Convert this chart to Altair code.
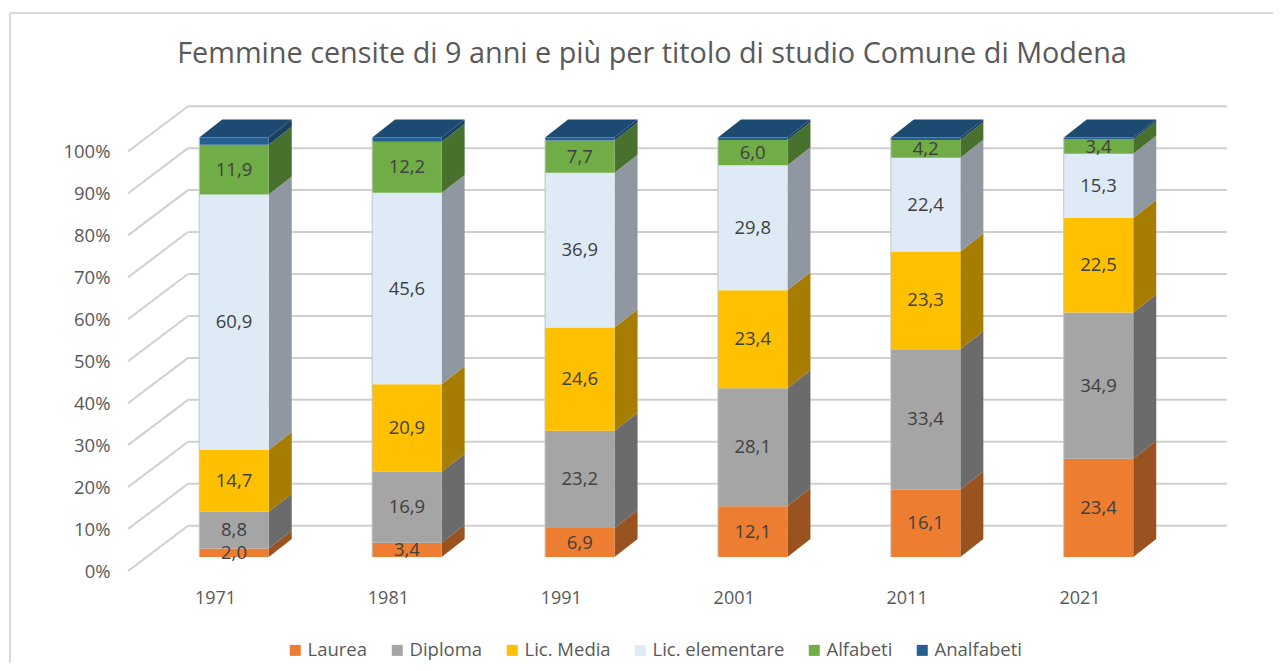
import altair as alt
import pandas as pd

years = [1971, 1981, 1991, 2001, 2011, 2021]
series = ["Laurea", "Diploma", "Lic. Media", "Lic. elementare", "Alfabeti", "Analfabeti"]
laurea = [2.0, 3.4, 6.9, 12.1, 16.1, 23.4]
diploma = [8.8, 16.9, 23.2, 28.1, 33.4, 34.9]
media = [14.7, 20.9, 24.6, 23.4, 23.3, 22.5]
elementare = [60.9, 45.6, 36.9, 29.8, 22.4, 15.3]
alfabeti = [11.9, 12.2, 7.7, 6.0, 4.2, 3.4]
analfabeti = [1.7, 1.0, 0.7, 0.6, 0.6, 0.5]
front_colors = ["#ED7D31", "#A5A5A5", "#FFC000", "#DEEBF7", "#70AD47", "#255E91"]
side_colors = ["#9A5220", "#6B6B6B", "#A67D00", "#8F98A0", "#49712E", "#18405F"]
top_color = "#1C4A70"
grid_levels = list(range(0, 101, 10))
title = "Femmine censite di 9 anni e più per titolo di studio Comune di Modena"

FONT = "Open Sans"
TEXT = "#595959"
GRID = "#D0D0D0"

# geometry, in data units (x in years, y in percent)
half_w = 2.01
depth_x = 1.33
depth_y = 4.29
px_x = 17.29
px_y = 4.195
x_domain = [1971 + (118 - 234) / px_x, 1971 + (1238 - 234) / px_x]
y_domain = [-(580 - 557) / px_y, (557 - 100) / px_y]
wall_front_x = 1971 + (128 - 234) / px_x
wall_back_x = 1971 + (188 - 234) / px_x
wall_end_x = 1971 + (1227 - 234) / px_x
wall_front_y = -(571 - 557) / px_y
wall_back_y = (557 - 525.7) / px_y

columns = [laurea, diploma, media, elementare, alfabeti, analfabeti]
front, side, top, edge = [], [], [], []
for i, yr in enumerate(years):
    base = 0.0
    for name, col in zip(series, columns):
        v = col[i]
        front.append(dict(year=yr, series=name, value=v, left=yr - half_w, right=yr + half_w,
                          y0=base, y1=base + v, mid=base + v / 2))
        key = f"{yr}-{name}"
        side.append(dict(key=key, series=name, x=yr + half_w, y0=base, y1=base + v))
        side.append(dict(key=key, series=name, x=yr + half_w + depth_x, y0=base + depth_y, y1=base + v + depth_y))
        base += v
    top.append(dict(year=yr, y=base, left=yr - half_w, right=yr + half_w))
    top.append(dict(year=yr, y=base + depth_y, left=yr - half_w + depth_x, right=yr + half_w + depth_x))
    edge.append(dict(year=yr, x=yr - half_w, y0=0, y1=base))

grid_diag, grid_back = [], []
for lv in grid_levels:
    grid_diag.append(dict(level=lv, x=wall_front_x, y=lv + wall_front_y))
    grid_diag.append(dict(level=lv, x=wall_back_x, y=lv + wall_back_y))
    grid_back.append(dict(level=lv, x=wall_back_x, y=lv + wall_back_y))
    grid_back.append(dict(level=lv, x=wall_end_x, y=lv + wall_back_y))

front_df = pd.DataFrame(front)
side_df = pd.DataFrame(side)
top_df = pd.DataFrame(top)
edge_df = pd.DataFrame(edge)

xs = alt.Scale(domain=x_domain, nice=False, zero=False)
ys = alt.Scale(domain=y_domain, nice=False, zero=False)

x_axis = alt.Axis(values=years, format="d", title=None, domain=False, ticks=False, grid=False,
                  labelOffset=-19, labelPadding=9, labelFont=FONT, labelFontSize=18, labelColor=TEXT,
                  labelAngle=0)
y_axis = alt.Axis(values=grid_levels, labelExpr="datum.value + '%'", title=None, domain=False, ticks=False,
                  grid=False, labelOffset=14, labelPadding=8, labelFont=FONT, labelFontSize=18.5, labelColor=TEXT)

one = pd.DataFrame({"a": [0]})
border_top = alt.Chart(one).mark_rule(color="#D9D9D9", strokeWidth=2, clip=False).encode(
    x=alt.value(-108), x2=alt.value(1160), y=alt.value(-87))
border_left = alt.Chart(one).mark_rule(color="#D9D9D9", strokeWidth=2, clip=False).encode(
    x=alt.value(-108), y=alt.value(-87), y2=alt.value(600))

diag = alt.Chart(pd.DataFrame(grid_diag)).mark_line(color=GRID, strokeWidth=2).encode(
    x=alt.X("x:Q", scale=xs, axis=x_axis), y=alt.Y("y:Q", scale=ys, axis=y_axis), detail="level:N")
back = alt.Chart(pd.DataFrame(grid_back)).mark_line(color=GRID, strokeWidth=2).encode(
    x=alt.X("x:Q", scale=xs, axis=x_axis), y=alt.Y("y:Q", scale=ys, axis=y_axis), detail="level:N")

side_layer = alt.Chart(side_df).mark_area(line=False, opacity=1).encode(
    x=alt.X("x:Q", scale=xs, axis=x_axis),
    y=alt.Y("y0:Q", scale=ys, axis=y_axis, stack=None),
    y2="y1:Q",
    detail="key:N",
    color=alt.Color("series:N", scale=alt.Scale(domain=series, range=side_colors), legend=None),
)
top_layer = alt.Chart(top_df).mark_area(orient="horizontal", color=top_color).encode(
    y=alt.Y("y:Q", scale=ys, axis=y_axis),
    x=alt.X("left:Q", scale=xs, axis=x_axis, stack=None),
    x2="right:Q",
    detail="year:N",
)
front_layer = alt.Chart(front_df).mark_rect().encode(
    x=alt.X("left:Q", scale=xs, axis=x_axis),
    x2="right:Q",
    y=alt.Y("y0:Q", scale=ys, axis=y_axis),
    y2="y1:Q",
    color=alt.Color("series:N", scale=alt.Scale(domain=series, range=front_colors), title=None,
                    legend=alt.Legend(orient="none", legendX=168, legendY=541, direction="horizontal", columns=6,
                                      symbolType="square", symbolSize=121, symbolStrokeWidth=0,
                                      labelFont=FONT, labelFontSize=18.5, labelColor=TEXT,
                                      columnPadding=20, labelOffset=3)),
)
edge_layer = alt.Chart(edge_df).mark_rule(color="#C4C4C4", strokeWidth=1).encode(
    x=alt.X("x:Q", scale=xs, axis=x_axis), y=alt.Y("y0:Q", scale=ys, axis=y_axis), y2="y1:Q")
labels = alt.Chart(front_df[front_df.series != "Analfabeti"]).mark_text(
    font=FONT, fontSize=18.5, color="#404040").encode(
    x=alt.X("year:Q", scale=xs, axis=x_axis),
    y=alt.Y("mid:Q", scale=ys, axis=y_axis),
    text=alt.Text("label:N"),
).transform_calculate(label="replace(format(datum.value, '.1f'), '.', ',')")

chart = alt.layer(border_top, border_left, diag, back, side_layer, top_layer, front_layer, edge_layer, labels).resolve_scale(
    color="independent"
).properties(
    width=1120, height=480,
    padding={"left": 110, "top": 92, "right": 35, "bottom": 83},
    autosize=alt.AutoSizeParams(type="none"),
    title=alt.TitleParams(title, font=FONT, fontSize=28.8, fontWeight="normal", color=TEXT, anchor="middle",
                          offset=-57, dx=-26),
).configure_view(stroke=None)

chart.save("out.html", embed_options={"renderer": "svg", "actions": False})
